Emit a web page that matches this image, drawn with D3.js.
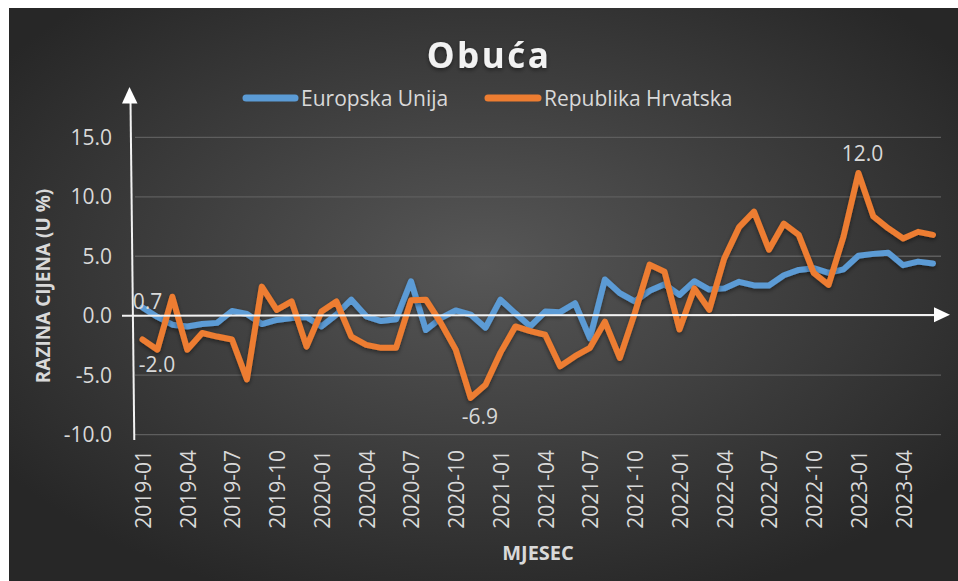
<!DOCTYPE html>
<html><head><meta charset="utf-8">
<script src="https://cdn.jsdelivr.net/npm/d3@7/dist/d3.min.js"></script>
<style>
body{margin:0;background:#ffffff;}
svg{display:block;}
text{font-family:"Open Sans",sans-serif;}
</style>
</head><body>
<svg id="chart" width="958" height="581"></svg>
<script>
// ---------- DATA ----------
const months = [
 "2019-01","2019-02","2019-03","2019-04","2019-05","2019-06","2019-07","2019-08","2019-09","2019-10","2019-11","2019-12",
 "2020-01","2020-02","2020-03","2020-04","2020-05","2020-06","2020-07","2020-08","2020-09","2020-10","2020-11","2020-12",
 "2021-01","2021-02","2021-03","2021-04","2021-05","2021-06","2021-07","2021-08","2021-09","2021-10","2021-11","2021-12",
 "2022-01","2022-02","2022-03","2022-04","2022-05","2022-06","2022-07","2022-08","2022-09","2022-10","2022-11","2022-12",
 "2023-01","2023-02","2023-03","2023-04","2023-05","2023-06"
];
const tickLabels = ["2019-01","2019-04","2019-07","2019-10","2020-01","2020-04","2020-07","2020-10",
 "2021-01","2021-04","2021-07","2021-10","2022-01","2022-04","2022-07","2022-10","2023-01","2023-04"];
const euValues = [
 0.7,-0.1,-0.75,-0.9,-0.7,-0.6,0.4,0.15,-0.7,-0.35,-0.2,-0.1,
 -0.9,0.1,1.35,-0.05,-0.45,-0.3,2.9,-1.2,-0.2,0.45,0.1,-1.0,
 1.35,0.2,-0.9,0.35,0.3,1.05,-1.9,3.05,1.9,1.2,2.1,2.65,
 1.75,2.9,2.2,2.3,2.85,2.55,2.55,3.4,3.85,4.0,3.6,3.9,
 5.05,5.2,5.3,4.25,4.55,4.4
];
const hrValues = [
 -2.0,-2.85,1.6,-2.85,-1.45,-1.75,-2.0,-5.35,2.45,0.5,1.2,-2.6,
 0.35,1.2,-1.75,-2.45,-2.7,-2.7,1.3,1.35,-0.6,-2.85,-6.9,-5.8,
 -3.1,-0.9,-1.3,-1.6,-4.25,-3.4,-2.7,-0.5,-3.55,0.2,4.3,3.7,
 -1.15,2.3,0.5,4.8,7.45,8.75,5.55,7.75,6.8,3.6,2.6,6.65,
 12.0,8.35,7.35,6.5,7.05,6.8
];
const seriesNames = ["Europska Unija","Republika Hrvatska"];
const seriesColors = ["#5b9bd5","#ed7d31"];
const yTicks = [-10,-5,0,5,10,15];
const labelledPoints = [[0,0],[1,0],[1,22],[1,48]]; // [series, month index]
const titleText = "Obuća";
const yTitle = "RAZINA CIJENA (U %)";
const xTitle = "MJESEC";

// ---------- DRAW ----------
const series = [euValues, hrValues];
const svg = d3.select("#chart");
const defs = svg.append("defs");

const grad = defs.append("radialGradient").attr("id","bg")
  .attr("cx","50%").attr("cy","45%").attr("r","62%");
grad.append("stop").attr("offset","0%").attr("stop-color","#575757");
grad.append("stop").attr("offset","100%").attr("stop-color","#272727");

const sh = defs.append("filter").attr("id","shadow")
  .attr("x","-10%").attr("y","-10%").attr("width","120%").attr("height","130%");
sh.append("feDropShadow").attr("dx",0).attr("dy",2).attr("stdDeviation",2)
  .attr("flood-color","#000").attr("flood-opacity",0.45);

svg.append("rect").attr("x",9).attr("y",8).attr("width",949).attr("height",573)
  .attr("fill","url(#bg)");

const x = d3.scalePoint().domain(months).range([142.5, 933]);
const y = d3.scaleLinear().domain([-10,15]).range([434.7,137.3]);

// grid
svg.append("g").selectAll("line").data(yTicks).join("line")
  .attr("x1",135).attr("x2",941)
  .attr("y1",d=>y(d)).attr("y2",d=>y(d))
  .attr("stroke","#5e5e5e").attr("stroke-width",1.3);

// y tick labels
svg.append("g").selectAll("text").data(yTicks).join("text")
  .attr("x",112).attr("y",d=>y(d)+7.5)
  .attr("text-anchor","end").attr("font-size",21).attr("fill","#d9d9d9")
  .text(d=>d.toFixed(1));

// x tick labels
svg.append("g").selectAll("text").data(tickLabels).join("text")
  .attr("transform",d=>`translate(${x(d)+8.5},450) rotate(-90)`)
  .attr("text-anchor","end").attr("font-size",21).attr("fill","#d9d9d9")
  .text(d=>d);

// lines
const line = d3.line().x((d,i)=>x(months[i])).y(d=>y(d));
svg.append("g").selectAll("path").data(series).join("path")
  .attr("d",d=>line(d))
  .attr("fill","none")
  .attr("stroke",(d,i)=>seriesColors[i])
  .attr("stroke-width",6)
  .attr("stroke-linejoin","round").attr("stroke-linecap","round")
  .attr("filter","url(#shadow)");

// axes (hand-drawn arrows)
const y0 = y(0);
svg.append("line").attr("x1",122).attr("y1",y0).attr("x2",936).attr("y2",y0-0.8)
  .attr("stroke","#f2f2f2").attr("stroke-width",2);
svg.append("path").attr("d",`M950,${y0-1}L934,${y0-8.5}L934,${y0+6.5}Z`).attr("fill","#ffffff");
svg.append("line").attr("x1",130.5).attr("y1",101).attr("x2",134.3).attr("y2",440)
  .attr("stroke","#f2f2f2").attr("stroke-width",2);
svg.append("path").attr("d","M129.5,87L122,103.5L137.5,103.5Z").attr("fill","#ffffff");

// data labels
const labelOffsets = [[5,2],[14.5,32.7],[9.3,26.4],[4,-11.7]];
svg.append("g").selectAll("text").data(labelledPoints).join("text")
  .attr("x",(d,k)=>x(months[d[1]])+labelOffsets[k][0])
  .attr("y",(d,k)=>y(series[d[0]][d[1]])+labelOffsets[k][1])
  .attr("text-anchor","middle").attr("font-size",21).attr("fill","#d9d9d9")
  .text(d=>series[d[0]][d[1]].toFixed(1));

// title
svg.append("text").attr("x",489).attr("y",68).attr("text-anchor","middle")
  .attr("font-size",35).attr("font-weight",700).attr("letter-spacing",2.5)
  .attr("fill","#f2f2f2").attr("filter","url(#shadow)").text(titleText);

// legend
const legendPos = [[243,298],[485,541]];
const lg = svg.append("g");
seriesNames.forEach((n,i)=>{
  lg.append("line").attr("x1",legendPos[i][0]+3).attr("x2",legendPos[i][1]-3)
    .attr("y1",98).attr("y2",98).attr("stroke",seriesColors[i])
    .attr("stroke-width",7).attr("stroke-linecap","round");
  lg.append("text").attr("x",legendPos[i][1]+3).attr("y",105.5)
    .attr("font-size",21).attr("fill","#d9d9d9").text(n);
});

// axis titles
svg.append("text").attr("transform","translate(50,286) rotate(-90)")
  .attr("text-anchor","middle").attr("font-size",19).attr("font-weight",700)
  .attr("fill","#d9d9d9").text(yTitle);
svg.append("text").attr("x",538).attr("y",560).attr("text-anchor","middle")
  .attr("font-size",20).attr("font-weight",700).attr("fill","#d9d9d9").text(xTitle);
</script>
</body></html>
